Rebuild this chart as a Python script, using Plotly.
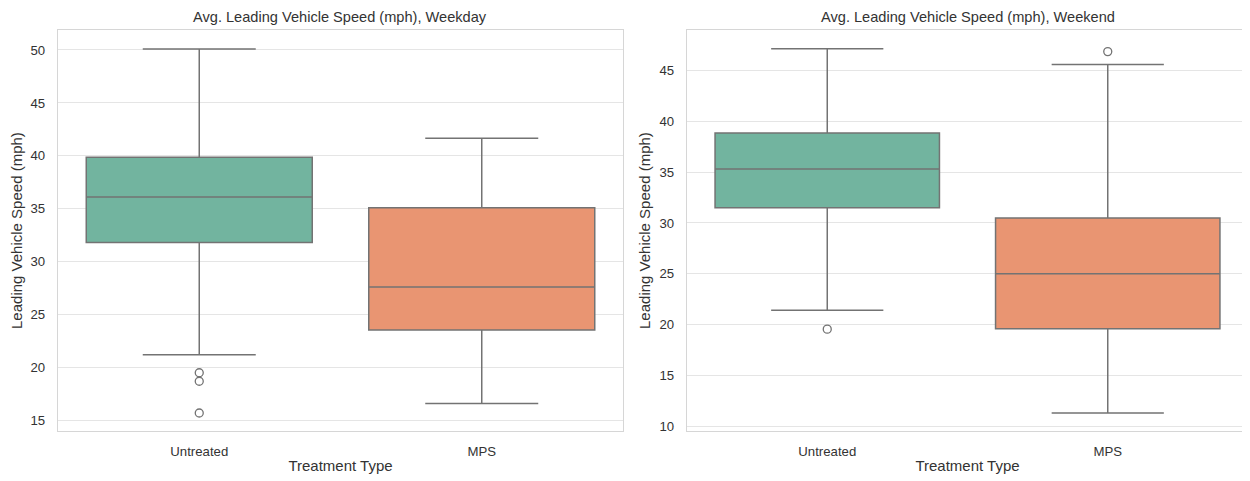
import plotly.graph_objects as go
from plotly.subplots import make_subplots

categories = ["Untreated", "MPS"]

# Weekday stats per category
wd_q1 = [31.8, 23.55]
wd_median = [36.1, 27.6]
wd_q3 = [39.87, 35.1]
wd_low = [21.2, 16.6]
wd_high = [50.1, 41.65]
wd_out_cat = ["Untreated", "Untreated", "Untreated"]
wd_out_val = [19.5, 18.7, 15.7]

# Weekend stats per category
we_q1 = [31.5, 19.6]
we_median = [35.3, 25.0]
we_q3 = [38.84, 30.5]
we_low = [21.4, 11.3]
we_high = [47.15, 45.6]
we_out_cat = ["Untreated", "MPS"]
we_out_val = [19.55, 46.86]

fills = ["rgb(114,180,159)", "rgb(233,149,114)"]
line_col = "rgb(115,115,115)"
font_col = "rgb(51,51,51)"

fig = make_subplots(rows=1, cols=2)

def add_panel(col, q1, med, q3, lo, hi, ocat, oval):
    for i, c in enumerate(categories):
        fig.add_trace(go.Box(
            x=[c], q1=[q1[i]], median=[med[i]], q3=[q3[i]],
            lowerfence=[lo[i]], upperfence=[hi[i]],
            width=0.8, whiskerwidth=0.5,
            fillcolor=fills[i], line=dict(color=line_col, width=1.5),
            boxpoints=False, showlegend=False, hoverinfo="y",
        ), row=1, col=col)
    fig.add_trace(go.Scatter(
        x=ocat, y=oval, mode="markers",
        marker=dict(symbol="circle-open", size=8, color=line_col, line=dict(width=1.3)),
        showlegend=False,
    ), row=1, col=col)

add_panel(1, wd_q1, wd_median, wd_q3, wd_low, wd_high, wd_out_cat, wd_out_val)
add_panel(2, we_q1, we_median, we_q3, we_low, we_high, we_out_cat, we_out_val)

OFF = 8  # page body margin
W, H = 1250 - OFF, 481 - OFF
x1 = [(58 - OFF) / W, (623 - OFF) / W]
x2 = [(687 - OFF) / W, (1248 - OFF) / W]
yd = [1 - (434 - OFF) / H, 1 - (30 - OFF) / H]

axis_common = dict(
    showline=True, mirror=True, linecolor="rgb(214,214,214)", linewidth=1.3,
    ticks="", tickfont=dict(size=13.2, color=font_col),
    title_font=dict(size=15, color=font_col),
    zeroline=False,
)

fig.update_xaxes(**axis_common, showgrid=False, categoryorder="array",
                 categoryarray=categories, range=[-0.5, 1.5], ticklabelstandoff=8,
                 title_text="Treatment Type", title_standoff=2)
fig.update_yaxes(**axis_common, showgrid=True, gridcolor="rgb(229,229,229)", gridwidth=1.3,
                 ticklabelstandoff=9,
                 title_text="Leading Vehicle Speed (mph)", dtick=5, title_standoff=5)

fig.update_layout(
    xaxis=dict(domain=x1), xaxis2=dict(domain=x2),
    yaxis=dict(domain=yd, range=[13.97, 51.9]),
    yaxis2=dict(domain=yd, range=[9.5, 49.0]),
    width=W, height=H,
    margin=dict(l=0, r=0, t=0, b=0),
    plot_bgcolor="white", paper_bgcolor="white",
    font=dict(family="Liberation Sans, Arial, sans-serif", color=font_col),
    boxmode="overlay",
    annotations=[
        dict(text="Avg. Leading Vehicle Speed (mph), Weekday", x=(x1[0] + x1[1]) / 2, y=1 - (17 - OFF) / H,
             xref="paper", yref="paper", showarrow=False, font=dict(size=14.6, color=font_col),
             xanchor="center", yanchor="middle"),
        dict(text="Avg. Leading Vehicle Speed (mph), Weekend", x=(x2[0] + x2[1]) / 2, y=1 - (17 - OFF) / H,
             xref="paper", yref="paper", showarrow=False, font=dict(size=14.6, color=font_col),
             xanchor="center", yanchor="middle"),
    ],
)

fig.write_html("out.html")
